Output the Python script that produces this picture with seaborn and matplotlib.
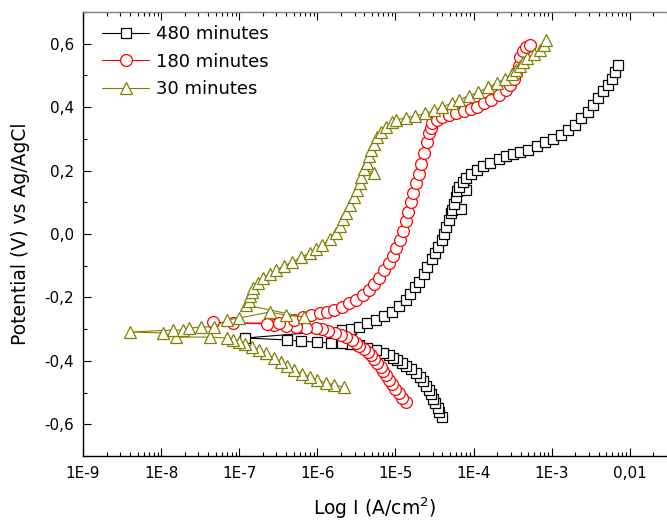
import numpy as np
import pandas as pd
import matplotlib
matplotlib.use("Agg")
import matplotlib.pyplot as plt
import seaborn as sns
from matplotlib.ticker import FixedLocator, MultipleLocator, LogLocator, NullFormatter

# Potentiodynamic polarisation curves: potential (V vs Ag/AgCl) and log10 of current density (A/cm2)
e_480 = [-0.577, -0.562, -0.548, -0.534, -0.520, -0.506, -0.492, -0.478, -0.465, -0.451,
         -0.438, -0.426, -0.416, -0.407, -0.398, -0.390, -0.382, -0.374, -0.366, -0.358,
         -0.350, -0.346, -0.344, -0.344, -0.341, -0.338, -0.334, -0.328,
         -0.303, -0.298, -0.293, -0.282, -0.271, -0.258, -0.246, -0.228, -0.208, -0.188,
         -0.167, -0.150, -0.127, -0.104, -0.080, -0.060, -0.041, -0.020, 0.000, 0.022,
         0.045, 0.065, 0.076, 0.080, 0.095, 0.117, 0.135, 0.140, 0.148, 0.165,
         0.177, 0.190, 0.202, 0.213, 0.224, 0.235, 0.245, 0.252, 0.258, 0.265,
         0.277, 0.290, 0.300, 0.312, 0.328, 0.344, 0.365, 0.385, 0.407, 0.429,
         0.450, 0.470, 0.490, 0.511, 0.533]
logi_480 = [-4.41, -4.44, -4.46, -4.49, -4.52, -4.54, -4.57, -4.61, -4.65, -4.69,
            -4.74, -4.80, -4.86, -4.92, -4.98, -5.03, -5.08, -5.16, -5.25, -5.36,
            -5.47, -5.58, -5.68, -5.82, -6.00, -6.21, -6.39, -6.92,
            -5.68, -5.57, -5.47, -5.36, -5.25, -5.15, -5.05, -4.96, -4.87, -4.81,
            -4.75, -4.70, -4.64, -4.59, -4.53, -4.49, -4.46, -4.41, -4.38, -4.35,
            -4.31, -4.29, -4.27, -4.16, -4.25, -4.23, -4.21, -4.10, -4.18, -4.13,
            -4.09, -4.03, -3.96, -3.88, -3.79, -3.68, -3.58, -3.50, -3.40, -3.30,
            -3.19, -3.08, -2.98, -2.88, -2.79, -2.70, -2.62, -2.53, -2.47, -2.41,
            -2.34, -2.28, -2.23, -2.19, -2.15]

e_180 = [-0.530, -0.516, -0.502, -0.488, -0.474, -0.460, -0.446, -0.432, -0.419, -0.406,
         -0.394, -0.382, -0.372, -0.362, -0.352, -0.343, -0.334, -0.326, -0.318, -0.311,
         -0.305, -0.300, -0.297, -0.296, -0.293, -0.290, -0.287, -0.284, -0.278, -0.281,
         -0.281, -0.270, -0.262, -0.256, -0.250, -0.246, -0.240, -0.229, -0.218, -0.208,
         -0.193, -0.177, -0.158, -0.139, -0.115, -0.092, -0.068, -0.045, -0.020, 0.010,
         0.040, 0.070, 0.100, 0.130, 0.160, 0.190, 0.222, 0.255, 0.290, 0.318,
         0.335, 0.350, 0.361, 0.369, 0.375, 0.381, 0.388, 0.395, 0.401, 0.412,
         0.423, 0.438, 0.454, 0.470, 0.490, 0.508, 0.530, 0.558, 0.576, 0.590, 0.596]
logi_180 = [-4.87, -4.91, -4.95, -5.00, -5.04, -5.08, -5.12, -5.16, -5.19, -5.23,
            -5.27, -5.31, -5.35, -5.40, -5.46, -5.51, -5.56, -5.63, -5.70, -5.77,
            -5.86, -5.94, -6.02, -6.14, -6.27, -6.40, -6.55, -6.64, -7.34, -7.08,
            -6.49, -6.30, -6.18, -6.08, -5.97, -5.87, -5.78, -5.68, -5.59, -5.51,
            -5.42, -5.34, -5.27, -5.21, -5.14, -5.08, -5.03, -4.99, -4.94, -4.90,
            -4.87, -4.84, -4.80, -4.77, -4.74, -4.70, -4.67, -4.63, -4.60, -4.57,
            -4.55, -4.53, -4.47, -4.40, -4.31, -4.22, -4.12, -4.03, -3.96, -3.86,
            -3.77, -3.67, -3.59, -3.53, -3.48, -3.45, -3.42, -3.40, -3.37, -3.33, -3.28]

e_30 = [-0.483, -0.476, -0.470, -0.460, -0.451, -0.440, -0.429, -0.416, -0.404, -0.390,
        -0.375, -0.365, -0.356, -0.348, -0.341, -0.334, -0.328, -0.325, -0.325, -0.312,
        -0.309, -0.303, -0.303, -0.297, -0.293, -0.293, -0.271, -0.265, -0.246, -0.256,
        -0.262, -0.224, -0.210, -0.197, -0.184, -0.170, -0.155, -0.139, -0.126, -0.114,
        -0.101, -0.088, -0.074, -0.060, -0.047, -0.035, -0.016, 0.003, 0.025, 0.046,
        0.066, 0.090, 0.117, 0.140, 0.160, 0.180, 0.192, 0.205, 0.224, 0.245,
        0.265, 0.285, 0.306, 0.322, 0.338, 0.352, 0.360, 0.366, 0.372, 0.380,
        0.390, 0.401, 0.412, 0.423, 0.435, 0.448, 0.462, 0.476, 0.490, 0.505,
        0.517, 0.530, 0.543, 0.555, 0.567, 0.580, 0.596, 0.612]
logi_30 = [-5.66, -5.78, -5.89, -6.00, -6.09, -6.20, -6.30, -6.39, -6.46, -6.56,
           -6.66, -6.75, -6.83, -6.92, -7.00, -7.08, -7.16, -7.38, -7.81, -7.98,
           -8.40, -7.85, -7.72, -7.64, -7.49, -7.32, -7.16, -7.00, -6.61, -6.40,
           -6.17, -6.91, -6.88, -6.86, -6.84, -6.82, -6.76, -6.70, -6.61, -6.53,
           -6.43, -6.32, -6.21, -6.10, -6.02, -5.94, -5.84, -5.76, -5.71, -5.67,
           -5.63, -5.58, -5.53, -5.49, -5.45, -5.44, -5.28, -5.40, -5.37, -5.34,
           -5.31, -5.28, -5.24, -5.18, -5.12, -5.05, -4.99, -4.87, -4.75, -4.62,
           -4.50, -4.40, -4.28, -4.18, -4.06, -3.94, -3.81, -3.70, -3.60, -3.51,
           -3.45, -3.40, -3.37, -3.31, -3.23, -3.15, -3.10, -3.07]

series_labels = ["480 minutes", "180 minutes", "30 minutes"]
series_colors = ["#000000", "#ff0000", "#808000"]

x_ticks = [1e-9, 1e-8, 1e-7, 1e-6, 1e-5, 1e-4, 1e-3, 1e-2]
x_tick_labels = ["1E-9", "1E-8", "1E-7", "1E-6", "1E-5", "1E-4", "1E-3", "0,01"]
y_ticks = [-0.6, -0.4, -0.2, 0.0, 0.2, 0.4, 0.6]
y_tick_labels = ["-0,6", "-0,4", "-0,2", "0,0", "0,2", "0,4", "0,6"]

sns.set_style("ticks")
plt.rcParams["font.family"] = ["DejaVu Sans"]
plt.rcParams.update({
    "text.color": "black", "axes.labelcolor": "black",
    "xtick.color": "black", "ytick.color": "black", "axes.edgecolor": "black",
})

fig = plt.figure(figsize=(6.67, 5.2), dpi=100)
ax = fig.add_axes([83 / 667, 64 / 520, 584 / 667, 444 / 520])
ax.set_xscale("log")

curves = [
    (e_480, logi_480, "s", 7.0),
    (e_180, logi_180, "o", 8.5),
    (e_30, logi_30, "^", 9.0),
]
for (e, logi, marker, ms), label, color in zip(curves, series_labels, series_colors):
    df = pd.DataFrame({"current": 10.0 ** np.asarray(logi), "potential": e})
    sns.lineplot(data=df, x="current", y="potential", sort=False, estimator=None,
                 ax=ax, color=color, linewidth=0.8, marker=marker, markersize=ms,
                 markerfacecolor="white", markeredgecolor=color,
                 markeredgewidth=0.9, label=label)

ax.set_xlim(1e-9, 0.03)
ax.set_ylim(-0.7, 0.7)

ax.xaxis.set_major_locator(FixedLocator(x_ticks))
ax.set_xticklabels(x_tick_labels)
ax.xaxis.set_minor_locator(LogLocator(base=10, subs=np.arange(2, 10), numticks=30))
ax.xaxis.set_minor_formatter(NullFormatter())
ax.yaxis.set_major_locator(FixedLocator(y_ticks))
ax.set_yticklabels(y_tick_labels)
ax.yaxis.set_minor_locator(MultipleLocator(0.1))

ax.tick_params(which="both", direction="in", top=True, right=False, width=0.8,
               labelsize=11)
ax.tick_params(which="major", length=5.8)
ax.tick_params(which="minor", length=3.0)
ax.tick_params(axis="y", pad=6.5)
ax.tick_params(axis="x", pad=7.5)

for side in ("left", "bottom"):
    ax.spines[side].set_linewidth(1.0)
    ax.spines[side].set_color("black")
ax.spines["top"].set_color("#808080")
ax.spines["top"].set_linewidth(1.0)
ax.spines["right"].set_visible(False)

ax.set_xlabel("Log I (A/cm$^2$)", fontsize=13.5, labelpad=10)
ax.set_ylabel("Potential (V) vs Ag/AgCl", fontsize=13.5, labelpad=10)

ax.legend(loc="upper left", bbox_to_anchor=(0.033, 0.97), frameon=False,
          fontsize=13, handlelength=2.6, handletextpad=0.35, labelspacing=0.52,
          borderaxespad=0, borderpad=0, numpoints=1)

fig.savefig("out.png", dpi=100)
